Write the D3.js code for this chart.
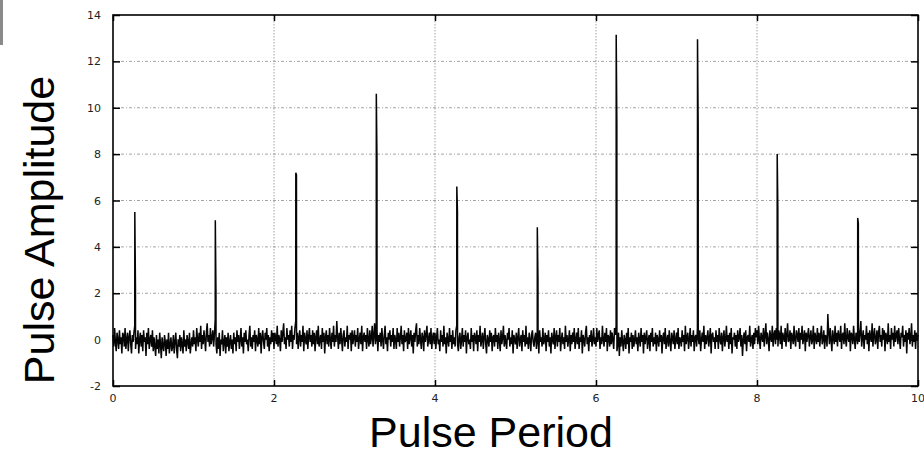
<!DOCTYPE html>
<html>
<head>
<meta charset="utf-8">
<script src="https://cdn.jsdelivr.net/npm/d3@7"></script>
<style>
  body { margin: 0; background: #fff; }
  .tick-label { font: 11px "DejaVu Sans", sans-serif; fill: #222; }
  .axis-title { font: 43px "Liberation Sans", Arial, sans-serif; fill: #000; }
</style>
</head>
<body>
<div class="chart"></div>
<script>
var svgWidth = 924;
var svgHeight = 456;

var margin = { top: 15, right: 6, bottom: 70, left: 113 };

var width = svgWidth - margin.left - margin.right;
var height = svgHeight - margin.top - margin.bottom;

// tick values
var xTicks = [0, 2, 4, 6, 8, 10];
var yTicks = [-2, 0, 2, 4, 6, 8, 10, 12, 14];

// baseline noise, one sample every 0.01 from 0 to 10 (25 per row = 0.25)
var noiseStep = 0.01;
var noise = [
  0.2, -0.3, 0.5, -0.1, -0.5, 0.3, 0.0, -0.4, 0.4, -0.2, 0.1, -0.6, 0.3, 0.2, -0.3, 0.5, -0.4, 0.0, 0.3, -0.5, 0.1, 0.4, -0.2, -0.6, 0.2,
  -0.1, 0.3, 0.6, -0.4, 0.1, -0.2, 0.4, -0.6, 0.0, 0.3, -0.3, 0.2, -0.5, 0.4, -0.1, 0.1, -0.7, 0.3, -0.2, 0.5, -0.4, 0.0, 0.2, -0.3, 0.4,
  -0.5, 0.1, -0.3, -0.7, 0.2, -0.4, 0.0, -0.6, 0.3, -0.2, -0.8, 0.1, -0.3, -0.5, 0.2, -0.1, -0.7, 0.0, -0.4, 0.3, -0.6, -0.2, 0.1, -0.5, -0.3,
  0.2, -0.6, -0.1, 0.3, -0.4, -0.8, 0.0, -0.3, 0.2, -0.5, 0.1, -0.2, -0.6, 0.4, -0.3, 0.0, -0.5, 0.2, -0.1, -0.4, 0.3, -0.6, -0.2, 0.1, -0.3,
  0.4, -0.2, 0.1, -0.5, 0.5, 0.0, -0.3, 0.3, -0.1, 0.6, -0.4, 0.2, -0.2, 0.4, 0.0, -0.5, 0.3, 0.7, -0.1, 0.2, -0.3, 0.5, -0.2, 0.1, 0.4,
  -0.3, 0.2, 0.9, -0.2, -0.6, 0.1, -0.4, 0.3, -0.7, 0.0, -0.2, 0.4, -0.5, -0.1, 0.2, -0.6, 0.1, -0.3, 0.3, -0.5, -0.1, 0.2, -0.4, 0.0, -0.6,
  0.3, -0.2, 0.1, -0.5, 0.4, -0.1, 0.2, -0.4, 0.0, 0.5, -0.3, 0.1, -0.6, 0.3, -0.1, 0.4, -0.2, 0.0, -0.5, 0.2, 0.6, -0.3, 0.1, -0.4, 0.2,
  -0.1, 0.4, -0.5, 0.2, 0.0, -0.3, 0.5, -0.2, 0.3, -0.6, 0.1, 0.4, -0.1, -0.4, 0.3, 0.0, 0.5, -0.3, 0.2, -0.5, 0.1, -0.2, 0.4, -0.1, 0.3,
  -0.4, 0.3, 0.1, -0.2, 0.6, -0.3, 0.2, 0.0, -0.5, 0.4, -0.1, 0.3, 0.7, -0.2, 0.1, -0.4, 0.5, 0.0, 0.2, -0.3, 0.4, -0.1, 0.6, -0.4, 0.2,
  0.0, 0.5, 0.8, -0.2, 0.3, -0.4, 0.1, 0.4, -0.3, 0.2, -0.1, 0.6, -0.5, 0.3, 0.0, -0.2, 0.4, -0.4, 0.1, 0.5, -0.1, 0.2, -0.3, 0.4, -0.2,
  0.3, -0.5, 0.1, 0.4, -0.2, 0.6, -0.3, 0.0, 0.2, -0.4, 0.5, -0.1, 0.3, -0.6, 0.1, 0.4, -0.2, 0.2, -0.3, 0.5, 0.0, -0.4, 0.3, -0.1, 0.6,
  -0.3, 0.2, -0.1, 0.8, 0.1, -0.4, 0.3, -0.2, 0.5, 0.0, -0.5, 0.2, 0.4, -0.3, 0.1, -0.1, 0.6, -0.4, 0.2, 0.0, 0.3, -0.5, 0.4, -0.2, 0.1,
  0.4, -0.3, 0.2, -0.1, 0.5, -0.4, 0.0, 0.3, -0.2, 0.6, -0.5, 0.1, 0.3, -0.1, 0.2, -0.4, 0.5, 0.0, -0.3, 0.4, -0.2, 0.1, 0.6, -0.3, 0.2,
  0.7, -0.2, 0.1, 0.4, -0.5, 0.2, -0.1, 0.3, -0.3, 0.5, 0.0, -0.4, 0.2, 0.6, -0.2, 0.1, -0.5, 0.3, 0.0, 0.4, -0.3, 0.2, -0.1, 0.5, -0.4,
  0.2, 0.0, -0.4, 0.5, -0.1, 0.3, -0.3, 0.1, 0.6, -0.2, 0.2, -0.5, 0.4, -0.1, 0.0, 0.3, -0.4, 0.5, -0.2, 0.1, 0.4, -0.3, 0.2, -0.6, 0.3,
  -0.1, 0.4, 0.7, -0.3, 0.2, -0.2, 0.5, 0.0, -0.4, 0.3, 0.1, -0.5, 0.4, -0.1, 0.2, 0.6, -0.3, 0.0, 0.3, -0.2, 0.5, -0.4, 0.1, 0.3, -0.2,
  0.3, -0.4, 0.1, 0.5, -0.2, 0.0, -0.5, 0.4, -0.1, 0.2, -0.3, 0.6, -0.2, 0.1, -0.6, 0.3, 0.0, -0.3, 0.5, -0.1, 0.2, -0.4, 0.4, -0.2, 0.1,
  -0.3, 0.4, 0.6, -0.2, -0.5, 0.1, 0.3, -0.4, 0.0, 0.5, -0.3, 0.2, -0.1, 0.4, -0.6, 0.1, 0.3, -0.2, 0.0, -0.4, 0.5, -0.1, 0.2, -0.5, 0.3,
  0.1, -0.2, 0.4, -0.5, 0.2, -0.1, 0.6, -0.3, 0.0, 0.3, -0.4, 0.1, 0.5, -0.2, -0.6, 0.2, 0.0, -0.3, 0.4, -0.1, 0.3, -0.5, 0.1, 0.2, -0.3,
  0.5, -0.1, 0.2, -0.4, 0.3, 0.0, -0.5, 0.4, -0.2, 0.1, 0.6, -0.3, 0.2, -0.1, -0.4, 0.3, 0.0, 0.5, -0.3, 0.1, -0.2, 0.4, -0.6, 0.2, 0.0,
  -0.2, 0.3, -0.4, 0.1, 0.5, -0.3, 0.0, 0.2, -0.5, 0.4, -0.1, 0.2, -0.3, 0.6, -0.2, 0.1, -0.4, 0.3, 0.0, -0.5, 0.2, 0.4, -0.1, -0.3, 0.1,
  0.3, -0.4, 0.0, 0.2, -0.6, 0.4, -0.1, 0.1, -0.3, 0.5, -0.2, 0.0, 0.3, -0.5, 0.2, -0.1, 0.4, -0.3, 0.1, -0.6, 0.3, 0.0, -0.2, 0.5, -0.4,
  0.1, 0.4, -0.3, 0.2, -0.1, 0.5, -0.5, 0.0, 0.3, -0.2, 0.1, -0.4, 0.6, -0.1, 0.2, -0.3, 0.0, 0.4, -0.5, 0.2, -0.2, 0.3, -0.1, 0.5, -0.4,
  0.0, 0.3, -0.2, 0.5, -0.4, 0.1, -0.1, 0.4, -0.6, 0.2, 0.0, -0.3, 0.3, 0.6, -0.2, 0.1, -0.5, 0.2, -0.1, 0.4, -0.3, 0.0, 0.5, -0.2, 0.1,
  -0.3, 0.5, -0.1, 0.2, 0.4, -0.4, 0.1, -0.2, 0.6, 0.0, -0.3, 0.3, -0.1, 0.5, -0.5, 0.2, 0.1, -0.3, 0.4, -0.2, 0.3, 0.0, -0.4, 0.5, 0.2,
  0.6, -0.5, -0.2, 0.3, -0.7, 0.1, -0.3, 0.4, -0.1, -0.5, 0.2, 0.0, -0.4, 0.3, -0.2, 0.5, -0.6, 0.1, -0.1, 0.3, -0.4, 0.2, -0.3, 0.0, 0.4,
  -0.2, 0.1, -0.5, 0.3, 0.0, -0.3, 0.5, -0.1, 0.2, -0.6, 0.3, -0.2, 0.1, 0.4, -0.4, 0.0, 0.2, -0.5, 0.3, -0.1, 0.5, -0.3, 0.1, -0.2, 0.3,
  -0.5, 0.2, 0.0, -0.3, 0.4, -0.1, 0.2, -0.6, 0.1, 0.3, -0.2, 0.5, -0.4, 0.0, 0.2, -0.3, 0.4, -0.1, -0.5, 0.3, 0.1, -0.2, 0.4, -0.4, 0.0,
  0.3, -0.2, 0.5, -0.4, 0.1, 0.0, -0.3, 0.4, -0.1, 0.2, -0.5, 0.6, -0.2, 0.1, 0.3, -0.4, 0.0, 0.5, -0.3, 0.2, -0.1, 0.4, -0.5, 0.1, 0.2,
  -0.3, 0.5, 0.1, -0.2, 0.4, -0.5, 0.0, 0.3, -0.1, 0.6, -0.4, 0.2, -0.2, 0.1, 0.4, -0.3, 0.0, 0.5, -0.6, 0.2, 0.3, -0.1, 0.1, -0.4, 0.4,
  -0.1, 0.2, -0.4, 0.5, 0.0, -0.2, 0.3, -0.5, 0.1, 0.4, -0.3, 0.0, 0.6, -0.1, 0.2, -0.4, 0.3, -0.2, 0.5, -0.6, 0.1, 0.0, 0.3, -0.3, 0.2,
  -0.4, 0.4, -0.1, 0.1, 0.5, -0.3, 0.2, -0.7, 0.0, 0.3, -0.2, 0.4, -0.5, 0.1, 0.2, -0.1, 0.6, -0.3, 0.0, 0.2, -0.4, 0.3, -0.2, 0.5, 0.1,
  0.4, -0.2, 0.6, 0.0, -0.4, 0.3, 0.1, -0.1, 0.5, -0.3, 0.2, 0.7, -0.2, 0.3, 0.0, -0.5, 0.4, 0.1, -0.1, 0.6, -0.3, 0.2, 0.4, -0.2, 0.5,
  0.0, -0.3, 0.4, 0.2, -0.2, 0.6, -0.4, 0.3, 0.1, -0.1, 0.5, -0.3, 0.2, 0.7, -0.1, 0.0, 0.4, -0.4, 0.3, 0.1, -0.2, 0.6, 0.0, -0.3, 0.4,
  0.2, -0.1, 0.5, -0.4, 0.3, 0.0, 0.6, -0.2, 0.1, 0.4, -0.5, 0.3, -0.1, 0.2, 0.5, -0.3, 0.1, 0.4, -0.2, 0.0, 0.6, -0.4, 0.3, 0.1, -0.2,
  0.5, -0.1, 0.3, -0.3, 0.2, 0.6, -0.2, 0.0, 0.4, -0.4, 0.2, 0.1, -0.3, 1.1, 0.3, -0.2, 0.5, 0.0, -0.5, 0.4, 0.1, -0.2, 0.6, -0.1, 0.3,
  -0.3, 0.4, 0.1, -0.1, 0.6, -0.4, 0.2, 0.3, -0.2, 0.7, 0.0, -0.3, 0.5, 0.1, -0.1, 0.4, -0.5, 0.3, 0.2, -0.2, 0.6, 0.0, -0.4, 0.3, 0.1,
  -0.2, 0.5, -0.1, 0.3, 0.8, -0.3, 0.1, 0.4, -0.4, 0.2, 0.0, 0.6, -0.2, 0.3, -0.5, 0.4, 0.1, -0.1, 0.7, -0.3, 0.2, 0.5, -0.2, 0.0, 0.4,
  -0.4, 0.3, 0.6, -0.1, 0.2, -0.3, 0.5, 0.0, 0.4, -0.5, 0.3, 0.1, -0.2, 0.7, -0.1, 0.2, -0.4, 0.5, 0.0, 0.3, -0.3, 0.6, -0.1, 0.2, 0.4,
  -0.2, 0.5, 0.0, -0.4, 0.3, 0.1, 0.6, -0.3, 0.2, -0.1, 0.4, -0.6, 0.3, 0.0, 0.5, -0.2, 0.1, 0.7, -0.3, 0.2, -0.1, 0.4, -0.4, 0.3, 0.0,
  0.2
];

// pulses: position, peak sample and the sample right after it
var spikeX = [0.27, 1.27, 2.27, 3.27, 4.27, 5.27, 6.25, 7.26, 8.25, 9.25];
var spikePeak = [5.5, 5.15, 7.2, 10.6, 6.6, 4.85, 13.15, 12.95, 8.0, 5.25];
var spikeShoulder = [2.3, 2.1, 7.1, 7.8, 5.5, 2.6, 9.3, 9.2, 5.6, 5.0];

// merge noise and pulses into one series
var series = noise.map(function(v, i) {
  return { x: i * noiseStep, y: v };
});
spikeX.forEach(function(sx, i) {
  series.push({ x: sx + 0.001, y: spikePeak[i] });
  series.push({ x: sx + 0.009, y: spikeShoulder[i] });
});
series.sort(function(a, b) { return a.x - b.x; });

var svg = d3
  .select(".chart")
  .append("svg")
  .attr("width", svgWidth)
  .attr("height", svgHeight);

// small grey mark in the upper left corner of the scan
svg.append("rect")
  .attr("x", 0).attr("y", 0)
  .attr("width", 3).attr("height", 45)
  .attr("fill", "#8a8a8a");

var chart = svg.append("g")
  .attr("transform", "translate(" + margin.left + "," + margin.top + ")");

var xScale = d3.scaleLinear().domain([0, 10]).range([0, width]);
var yScale = d3.scaleLinear().domain([-2, 14]).range([height, 0]);

// dotted grid
chart.append("g")
  .selectAll("line")
  .data(yTicks.filter(function(d) { return d > -2 && d < 14; }))
  .enter()
  .append("line")
  .attr("x1", 0)
  .attr("x2", width)
  .attr("y1", function(d) { return yScale(d); })
  .attr("y2", function(d) { return yScale(d); })
  .attr("stroke", "#8c8c8c")
  .attr("stroke-width", 0.8)
  .attr("stroke-dasharray", "3,2,1,2");

chart.append("g")
  .selectAll("line")
  .data(xTicks.filter(function(d) { return d > 0 && d < 10; }))
  .enter()
  .append("line")
  .attr("x1", function(d) { return xScale(d); })
  .attr("x2", function(d) { return xScale(d); })
  .attr("y1", 0)
  .attr("y2", height)
  .attr("stroke", "#8c8c8c")
  .attr("stroke-width", 0.8)
  .attr("stroke-dasharray", "1.5,1.5");

// the signal
var line = d3.line()
  .x(function(d) { return xScale(d.x); })
  .y(function(d) { return yScale(d.y); });

chart.append("path")
  .datum(series)
  .attr("d", line)
  .attr("fill", "none")
  .attr("stroke", "#050505")
  .attr("stroke-width", 1.5)
  .attr("stroke-linejoin", "bevel");

// frame with inward ticks on all four sides
chart.append("g")
  .attr("transform", "translate(0," + height + ")")
  .call(d3.axisBottom(xScale).tickValues(xTicks).tickSizeInner(-6).tickSizeOuter(0).tickFormat(""));
chart.append("g")
  .call(d3.axisTop(xScale).tickValues(xTicks).tickSizeInner(-6).tickSizeOuter(0).tickFormat(""));
chart.append("g")
  .call(d3.axisLeft(yScale).tickValues(yTicks).tickSizeInner(-7).tickSizeOuter(0).tickFormat(""));
chart.append("g")
  .attr("transform", "translate(" + width + ",0)")
  .call(d3.axisRight(yScale).tickValues(yTicks).tickSizeInner(-7).tickSizeOuter(0).tickFormat(""));

chart.selectAll(".domain").remove();
chart.selectAll(".tick line").attr("stroke", "#000").attr("stroke-width", 1.5);

chart.append("rect")
  .attr("width", width)
  .attr("height", height)
  .attr("fill", "none")
  .attr("stroke", "#000")
  .attr("stroke-width", 1.6);

// tick labels
chart.append("g")
  .selectAll("text")
  .data(yTicks)
  .enter()
  .append("text")
  .attr("class", "tick-label")
  .attr("x", -12)
  .attr("y", function(d) { return yScale(d) + 4; })
  .attr("text-anchor", "end")
  .text(function(d) { return d; });

chart.append("g")
  .selectAll("text")
  .data(xTicks)
  .enter()
  .append("text")
  .attr("class", "tick-label")
  .attr("x", function(d) { return xScale(d); })
  .attr("y", height + 16)
  .attr("text-anchor", "middle")
  .text(function(d) { return d; });

// axis titles
svg.append("text")
  .attr("class", "axis-title")
  .attr("transform", "translate(54,230) rotate(-90)")
  .attr("text-anchor", "middle")
  .text("Pulse Amplitude");

svg.append("text")
  .attr("class", "axis-title")
  .attr("x", 491)
  .attr("y", 447)
  .attr("text-anchor", "middle")
  .text("Pulse Period");
</script>
</body>
</html>
